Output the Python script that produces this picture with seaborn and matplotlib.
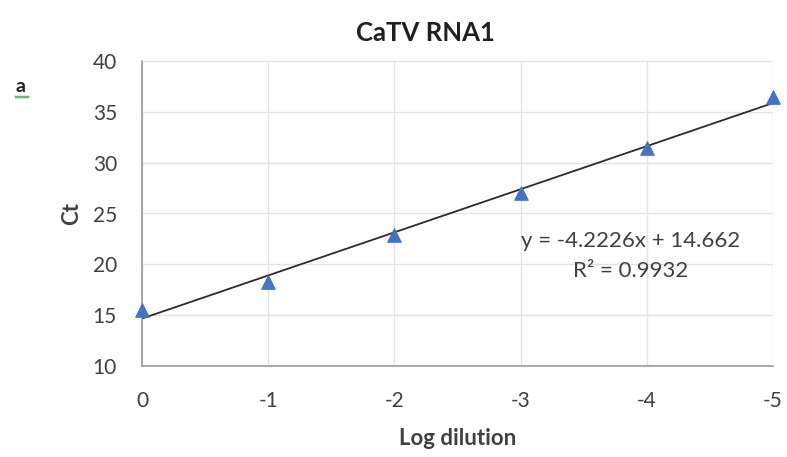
import numpy as np
import pandas as pd
import seaborn as sns
import matplotlib
matplotlib.use("Agg")
import matplotlib.pyplot as plt
from matplotlib.lines import Line2D

log_dilution = [0, -1, -2, -3, -4, -5]
ct_values = [15.5, 18.3, 22.9, 27.0, 31.4, 36.5]
x_ticks = [0, -1, -2, -3, -4, -5]
y_ticks = [10, 15, 20, 25, 30, 35, 40]
title = "CaTV RNA1"
equation_text = "y = -4.2226x + 14.662"
r2_text = "R² = 0.9932"

sns.set_theme(style="white")
plt.rcParams['font.family'] = ['Lato', 'DejaVu Sans']

df = pd.DataFrame({"x": log_dilution, "y": ct_values})

fig = plt.figure(figsize=(7.87, 4.57), dpi=100)
ax = fig.add_axes([142/787, 1-366/457, (773-142)/787, (366-61)/457])

# trend line
slope, intercept = np.polyfit(df["x"], df["y"], 1)
xl = np.array([min(log_dilution), max(log_dilution)])
sns.lineplot(x=xl, y=slope*xl+intercept, ax=ax, color="#2b2b2b", linewidth=1.3, zorder=2)
sns.scatterplot(data=df, x="x", y="y", ax=ax, marker="^", s=95, color="#4472C4",
                edgecolor="#4472C4", zorder=3, clip_on=False)

ax.set_xlim(0, -5)
ax.set_ylim(10, 40)
ax.set_xticks(x_ticks)
ax.set_xticklabels([str(t) for t in x_ticks])
ax.set_yticks(y_ticks)
ax.grid(True, color="#E3E3E3", linewidth=1)
for s in ["top", "right"]:
    ax.spines[s].set_visible(False)
for s in ["left", "bottom"]:
    ax.spines[s].set_color("#9A9A9A")
    ax.spines[s].set_linewidth(1.2)
ax.tick_params(axis="both", labelsize=15, colors="#404040", length=0, pad=18)
ax.set_xlabel("Log dilution", fontsize=16, fontweight="bold", color="#404040", labelpad=12)
ax.set_ylabel("Ct", fontsize=16, fontweight="bold", color="#404040", labelpad=8)

ax.text(-3.87, 22.3, equation_text, ha="center", va="center", fontsize=16, color="#404040")
ax.text(-3.87, 19.3, r2_text, ha="center", va="center", fontsize=16, color="#404040")

fig.text(425/787, 1-33/457, title, ha="center", va="center", fontsize=18.5, fontweight="bold", color="#202020")
fig.text(20/787, 1-86/457, "a", ha="center", va="center", fontsize=14, fontweight="bold", color="#202020")
# spell-check squiggle under "a"
sx = np.linspace(15, 29, 15)
sy = 457 - 97 + np.where(np.arange(15) % 2 == 0, 1.0, -1.0)
fig.add_artist(Line2D(sx/787, sy/457, color="#5BA85B", linewidth=0.8))

fig.savefig("out.png", dpi=100)
